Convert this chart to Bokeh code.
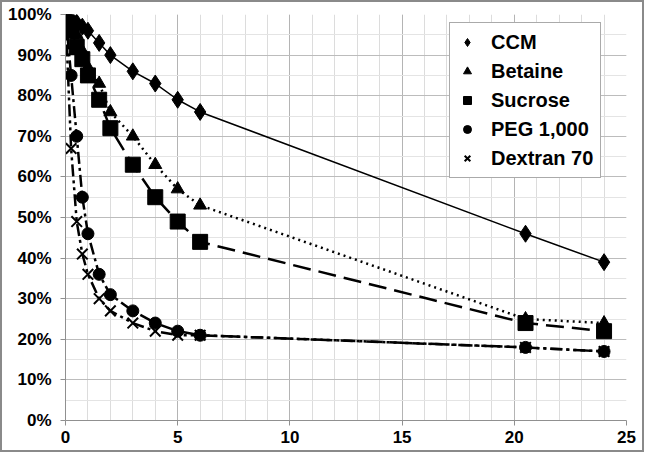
from bokeh.plotting import figure
from bokeh.models import (Range1d, SingleIntervalTicker, PrintfTickFormatter,
                          Legend, LegendItem)
from bokeh.embed import file_html
from bokeh.resources import INLINE

hours = [0, 0.25, 0.5, 0.75, 1, 1.5, 2, 3, 4, 5, 6, 20.5, 24]
ccm = [100, 99, 98, 97, 96, 93, 90, 86, 83, 79, 76, 46, 39]
betaine = [100, 98, 95, 91, 87, 83, 76, 70, 63, 57, 53, 25, 24]
sucrose = [100, 96, 92, 89, 85, 79, 72, 63, 55, 49, 44, 24, 22]
peg = [100, 85, 70, 55, 46, 36, 31, 27, 24, 22, 21, 18, 17]
dextran = [100, 67, 49, 41, 36, 30, 27, 24, 22, 21, 21, 18, 17]

names = ["CCM", "Betaine", "Sucrose", "PEG 1,000", "Dextran 70"]
series = [ccm, betaine, sucrose, peg, dextran]

FONT = "Liberation Sans"

p = figure(width=644, height=452, output_backend="svg", toolbar_location=None,
           x_range=Range1d(0, 25), y_range=Range1d(0, 100),
           min_border_left=63, min_border_right=20, min_border_top=12,
           min_border_bottom=34)
p.styles = {"border": "2px solid #8a8a8a"}
p.outline_line_color = None
p.background_fill_color = "white"
p.border_fill_color = "white"

p.xaxis.ticker = SingleIntervalTicker(interval=5, num_minor_ticks=5)
p.yaxis.ticker = SingleIntervalTicker(interval=10, num_minor_ticks=2)
p.yaxis.formatter = PrintfTickFormatter(format="%d%%")
for ax in (p.xaxis, p.yaxis):
    ax.axis_line_color = "#909090"
    ax.major_tick_line_color = "#909090"
    ax.major_tick_out = 5
    ax.major_tick_in = 0
    ax.minor_tick_line_color = None
    ax.major_label_text_font = FONT
    ax.major_label_text_font_style = "bold"
    ax.major_label_text_font_size = "17px"
    ax.major_label_text_color = "black"
p.xaxis.major_label_standoff = 5
p.yaxis.major_label_standoff = 9

p.xgrid.grid_line_color = "#b4b4b4"
p.xgrid.minor_grid_line_color = "#dcdcdc"
p.ygrid.grid_line_color = "#bcbcbc"
p.ygrid.minor_grid_line_color = "#e4e4e4"

dashes = ["solid", "2 4", "18 8", "12 4 3 4", "12 4 3 4 3 4"]
widths = [1.5, 2.5, 2.5, 2.5, 2.5]
markers = ["diamond", "triangle", "square", "circle", "x"]
sizes = [17, 13, 15, 12, 15]

items = []
for name, ys, dash, lw, mk, sz in zip(names, series, dashes, widths, markers, sizes):
    p.line(hours, ys, line_color="black", line_width=lw, line_dash=dash)
    r = p.scatter(hours, ys, marker=mk, size=sz, fill_color="black",
                  line_color="black", line_width=2 if mk == "x" else 1)
    items.append(LegendItem(label=name, renderers=[r]))

legend = Legend(items=items, location=(384, 242))
legend.label_text_font = FONT
legend.label_text_font_style = "bold"
legend.label_text_font_size = "20px"
legend.label_text_color = "black"
legend.border_line_color = "#555555"
legend.border_line_width = 1
legend.background_fill_color = "white"
legend.background_fill_alpha = 1
legend.padding = 7
legend.spacing = 5
legend.label_height = 24
legend.glyph_height = 22
legend.glyph_width = 20
legend.label_standoff = 14
legend.margin = 0
p.add_layout(legend, "center")

open("out.html", "w").write(file_html(p, INLINE))
